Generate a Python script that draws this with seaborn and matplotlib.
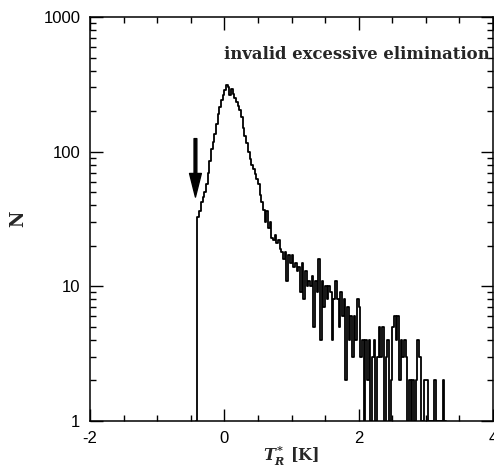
import numpy as np
import pandas as pd
import matplotlib
matplotlib.use("Agg")
import matplotlib.pyplot as plt
import seaborn as sns
from matplotlib.ticker import FixedLocator, MultipleLocator, LogLocator, NullFormatter, FixedFormatter

# ---- data ----
bin_start = -0.425
bin_width = 0.025
lead_counts = [1]
core_counts = [33, 36, 42, 46, 50, 58, 70, 85, 105, 118,
               135, 160, 190, 215, 240, 262, 285, 310, 300, 265,
               290, 270, 250, 235, 220, 205, 180, 150, 130, 115,
               100, 88, 80, 74, 68, 63, 58, 48]
mid_counts = [42, 37, 30, 36, 27, 30, 23, 22, 24, 21,
              22, 19, 18, 16, 18, 11, 17, 15, 17, 14,
              15, 13, 14, 9, 15, 8, 13, 10, 11, 10,
              12, 5, 11, 9, 16, 4, 11, 7, 10, 8,
              10, 9, 4, 8, 11, 8, 5, 9, 6, 8,
              2, 7, 4, 6, 3, 6, 4, 8]
tail_counts = [7, 3, 4, 1, 4, 2, 4, 1, 3, 4,
               1, 3, 5, 3, 5, 1, 3, 4, 1, 2,
               5, 6, 4, 6, 2, 4, 3, 4, 3, 1,
               2, 1, 2, 1, 2, 4, 3, 1, 1, 2,
               2, 1, 1, 1, 1, 2, 1, 1, 1, 1,
               2, 1]
x_ticks = [-2, 0, 2, 4]
x_ticklabels = ["-2", "0", "2", "4"]
y_ticks = [1, 10, 100, 1000]
y_ticklabels = ["1", "10", "100", "1000"]
annotation = "invalid excessive elimination"

counts = np.array(lead_counts + core_counts + mid_counts + tail_counts, dtype=float)
edges = bin_start + bin_width * np.arange(len(counts) + 1)
centers = edges[:-1] + bin_width / 2
df = pd.DataFrame({"T": centers, "N": counts})

# ---- style ----
sns.set_style("ticks")
plt.rcParams["font.family"] = ["Liberation Sans", "DejaVu Sans"]
plt.rcParams["axes.unicode_minus"] = False
plt.rcParams["mathtext.fontset"] = "custom"
plt.rcParams["mathtext.it"] = "DejaVu Serif:italic:bold"
plt.rcParams["mathtext.rm"] = "DejaVu Serif:bold"

fig = plt.figure(figsize=(4.94, 4.71), dpi=100)
ax = fig.add_axes([90 / 494, 1 - 421 / 471, 403 / 494, 404 / 471])

sns.histplot(data=df, x="T", weights="N", bins=edges.tolist(), element="step",
             fill=False, color="black", linewidth=1.3, ax=ax)

ax.set_yscale("log")
ax.set_xlim(-2, 4)
ax.set_ylim(1, 1000)

for s in ax.spines.values():
    s.set_visible(True)
    s.set_linewidth(1.1)
    s.set_color("black")

ax.xaxis.set_major_locator(FixedLocator(x_ticks))
ax.xaxis.set_major_formatter(FixedFormatter(x_ticklabels))
ax.xaxis.set_minor_locator(MultipleLocator(0.5))
ax.yaxis.set_major_locator(FixedLocator(y_ticks))
ax.yaxis.set_major_formatter(FixedFormatter(y_ticklabels))
ax.yaxis.set_minor_locator(LogLocator(base=10, subs=np.arange(2, 10)))
ax.yaxis.set_minor_formatter(NullFormatter())

ax.tick_params(which="both", direction="in", top=True, right=True, colors="black",
               labelsize=12, width=1.0)
ax.tick_params(which="major", length=9, pad=7)
ax.tick_params(which="minor", length=4.5)

ax.set_xlabel(r"$T_R^{*}$ [K]", fontsize=11.5, fontweight="bold", family="DejaVu Serif")
ax.xaxis.set_label_coords(0.5, -0.06)
ax.set_ylabel("N", fontsize=13, fontweight="bold", family="DejaVu Serif")
ax.yaxis.set_label_coords(-0.155, 0.5)

ax.text(0.0, 530, annotation, fontsize=11.9, fontweight="bold",
        family="DejaVu Serif", va="center", ha="left")

ax.annotate("", xy=(-0.43, 46), xytext=(-0.43, 125),
            arrowprops=dict(facecolor="black", edgecolor="black", width=2.0,
                            headwidth=8.5, headlength=17, shrink=0))

fig.savefig("out.png", dpi=100)
